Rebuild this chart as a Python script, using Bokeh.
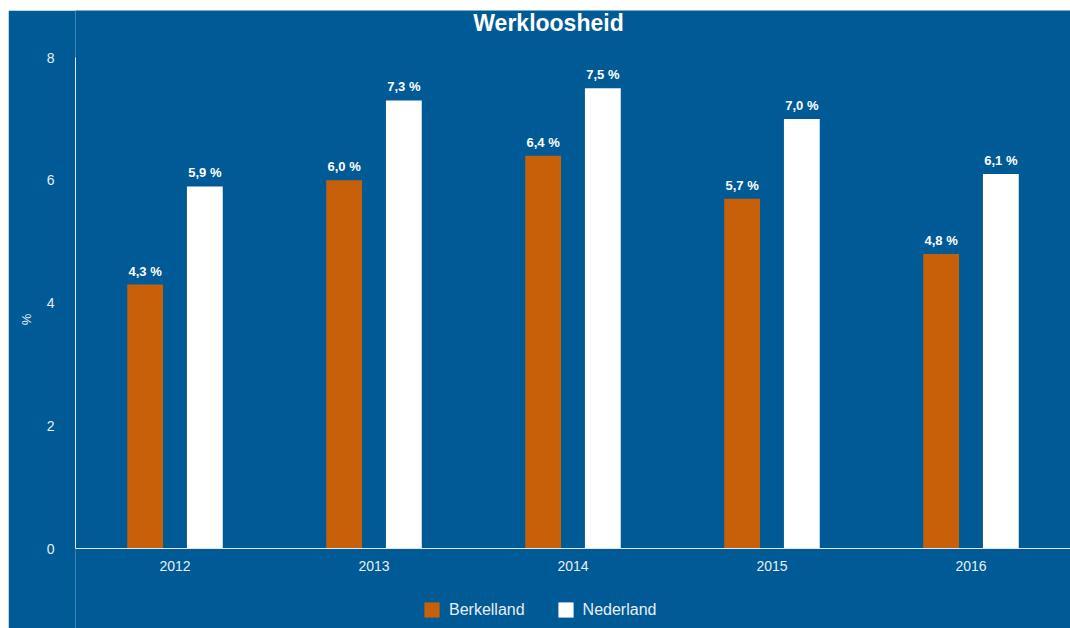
from bokeh.plotting import figure
from bokeh.models import ColumnDataSource, LabelSet, Legend, LegendItem, FixedTicker, Label
from bokeh.transform import dodge
from bokeh.core.properties import value
from bokeh.embed import file_html
from bokeh.resources import INLINE

years = ["2012", "2013", "2014", "2015", "2016"]
berkelland = [4.3, 6.0, 6.4, 5.7, 4.8]
nederland = [5.9, 7.3, 7.5, 7.0, 6.1]
y_ticks = [0, 2, 4, 6, 8]
title_text = "Werkloosheid"

BG = "#005a96"
ORANGE = "#c8600a"
TXT = "#e8eef4"
FONT = "Liberation Sans"

# layout (pixels)
FIG_W, FIG_H = 1062, 618
LEFT = 67
TOP_GAP, PLOT_H, BOTTOM_GAP = 47, 491, 80
PX = PLOT_H / 8.0

def fmt(v):
    return ("%.1f %%" % v).replace(".", ",")

src = ColumnDataSource(dict(
    year=years,
    berk=berkelland,
    ned=nederland,
    berk_lbl=[fmt(v) for v in berkelland],
    ned_lbl=[fmt(v) for v in nederland],
))

p = figure(frame_width=FIG_W - LEFT, frame_height=FIG_H, x_range=years,
           y_range=(-BOTTOM_GAP / PX, 8 + TOP_GAP / PX),
           output_backend="svg", toolbar_location=None,
           background_fill_color=BG, border_fill_color=BG,
           outline_line_color=None, min_border_left=LEFT, min_border_right=0,
           min_border_top=0, min_border_bottom=0)
p.margin = (10, 0, 0, 8)

title = Label(x=473, y=FIG_H - 12, x_units="screen", y_units="screen",
              text=title_text, text_align="center", text_baseline="alphabetic",
              text_color="white", text_font=FONT, text_font_size="23px",
              text_font_style="bold")
p.add_layout(title)

r1 = p.vbar(x=dodge("year", -0.15, range=p.x_range), top="berk", width=0.18,
            source=src, fill_color=ORANGE, line_color=None)
r2 = p.vbar(x=dodge("year", 0.15, range=p.x_range), top="ned", width=0.18,
            source=src, fill_color="white", line_color=None)

for col, lbl, off in (("berk", "berk_lbl", -0.15), ("ned", "ned_lbl", 0.15)):
    ls = LabelSet(x=dodge("year", off, range=p.x_range), y=col, text=lbl, source=src,
                  y_offset=6, text_align="center", text_baseline="bottom",
                  text_color="white", text_font=value(FONT),
                  text_font_size="13px", text_font_style="bold")
    p.add_layout(ls)

p.xgrid.grid_line_color = None
p.ygrid.grid_line_color = None

for ax in (p.xaxis[0], p.yaxis[0]):
    ax.axis_line_color = "#e4e8ee"
    ax.axis_line_width = 1
    ax.major_tick_line_color = None
    ax.minor_tick_line_color = None
    ax.major_label_text_color = TXT
    ax.major_label_text_font = FONT
    ax.major_label_text_font_size = "14px"

p.xaxis.fixed_location = 0
p.xaxis.major_label_standoff = 6

p.yaxis.ticker = FixedTicker(ticks=y_ticks)
p.yaxis.bounds = (0, 8)
p.yaxis.major_label_standoff = 15
p.yaxis.axis_label = "%"
p.yaxis.axis_label_text_color = TXT
p.yaxis.axis_label_text_font = FONT
p.yaxis.axis_label_text_font_size = "13px"
p.yaxis.axis_label_text_font_style = "normal"
p.yaxis.axis_label_standoff = 10

legend = Legend(items=[LegendItem(label="Berkelland", renderers=[r1]),
                       LegendItem(label="Nederland", renderers=[r2])],
                orientation="horizontal", location=(347, 9),
                background_fill_alpha=0, border_line_color=None,
                label_text_color=TXT, label_text_font=FONT,
                label_text_font_size="16px", glyph_width=19, glyph_height=19,
                spacing=31, label_standoff=8, margin=0, padding=4)
p.add_layout(legend)

open("out.html", "w").write(file_html(p, INLINE))
